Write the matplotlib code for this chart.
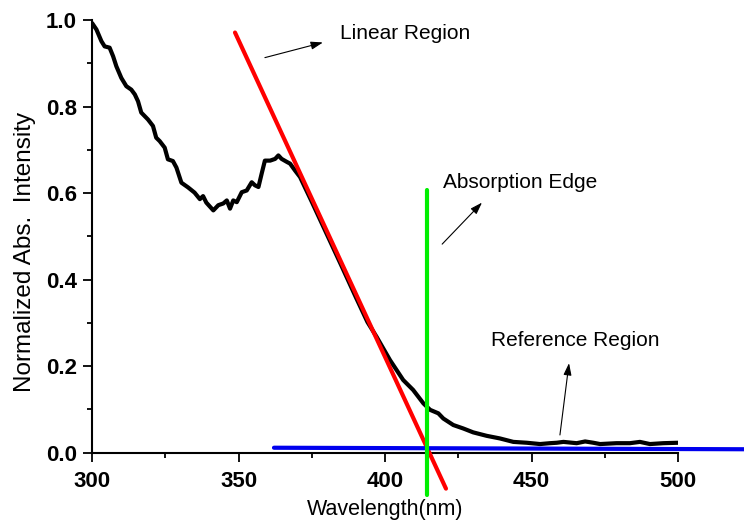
import matplotlib
matplotlib.use("Agg")
import matplotlib.pyplot as plt
from matplotlib.ticker import MultipleLocator

plt.rcParams['font.family'] = ['Liberation Sans', 'DejaVu Sans']

# Normalized absorption spectrum
wavelength = [300.3, 301.5, 303.2, 304.3, 306.0, 307.2, 308.3, 310.0, 311.7, 313.4,
              314.6, 315.7, 316.8, 319.1, 320.8, 321.9, 323.1, 324.8, 325.9, 327.6,
              328.8, 330.5, 332.8, 335.0, 336.8, 337.9, 339.0, 341.4, 343.1, 344.8,
              346.0, 347.1, 348.2, 349.4, 351.1, 352.8, 354.5, 355.6, 356.8, 357.9,
              359.0, 360.8, 362.5, 363.6, 364.7, 366.5, 367.6, 369.3, 371.0, 375.0,
              380.0, 385.0, 390.0, 394.0, 397.1, 401.7, 406.2, 409.6, 413.1, 415.4,
              418.2, 419.9, 423.3, 426.7, 430.1, 434.7, 439.2, 443.8, 448.4, 452.9,
              456.3, 458.6, 460.9, 465.4, 468.3, 471.1, 473.4, 479.0, 483.6, 487.0,
              490.4, 495.0, 500.0]
absorbance = [0.990, 0.978, 0.951, 0.939, 0.936, 0.916, 0.893, 0.866, 0.847, 0.839,
              0.828, 0.812, 0.786, 0.770, 0.755, 0.728, 0.720, 0.705, 0.678, 0.674,
              0.659, 0.624, 0.613, 0.601, 0.586, 0.593, 0.578, 0.560, 0.572, 0.576,
              0.583, 0.564, 0.583, 0.579, 0.602, 0.606, 0.625, 0.618, 0.614, 0.645,
              0.675, 0.675, 0.679, 0.687, 0.679, 0.672, 0.668, 0.652, 0.637, 0.580,
              0.507, 0.434, 0.360, 0.302, 0.268, 0.214, 0.168, 0.145, 0.114, 0.099,
              0.091, 0.079, 0.064, 0.056, 0.047, 0.039, 0.033, 0.025, 0.023, 0.020,
              0.022, 0.023, 0.025, 0.022, 0.026, 0.023, 0.020, 0.022, 0.022, 0.025,
              0.020, 0.022, 0.023]

# Tangent line fitted to the linear region
linear_x = [348.8, 420.8]
linear_y = [0.971, -0.083]
# Absorption edge marker
edge_x = [414.3, 414.3]
edge_y = [0.606, -0.098]
# Baseline of the reference region
ref_x = [362.1, 522.5]
ref_y = [0.0115, 0.008]

x_ticks = [300, 350, 400, 450, 500]
y_ticks = [0.0, 0.2, 0.4, 0.6, 0.8, 1.0]

fig = plt.figure(figsize=(7.44, 5.23), dpi=100)
ax = fig.add_axes([0.1237, 0.1344, 0.7876, 0.8274])

ax.plot(wavelength, absorbance, color='black', lw=3.0, zorder=3)
ax.plot(linear_x, linear_y, color='#ff0000', lw=3.0, clip_on=False, zorder=4,
        solid_capstyle='round')
ax.plot(edge_x, edge_y, color='#00ee00', lw=3.0, clip_on=False, zorder=5,
        solid_capstyle='round')
ax.plot(ref_x, ref_y, color='#0000ee', lw=3.0, clip_on=False, zorder=4,
        solid_capstyle='round')

ax.set_xlim(300, 500)
ax.set_ylim(0, 1.0)
ax.set_xticks(x_ticks)
ax.set_yticks(y_ticks)
ax.set_xticklabels([str(v) for v in x_ticks], fontsize=16, fontweight='bold')
ax.set_yticklabels([f"{v:.1f}" for v in y_ticks], fontsize=16, fontweight='bold')
ax.xaxis.set_minor_locator(MultipleLocator(25))
ax.yaxis.set_minor_locator(MultipleLocator(0.1))
ax.tick_params(which='major', direction='out', length=6.8, width=1.3)
ax.tick_params(which='minor', direction='out', length=3.6, width=1.3)
ax.tick_params(axis='x', which='major', pad=6.5)
ax.tick_params(axis='y', which='major', pad=4)
for side in ('top', 'right'):
    ax.spines[side].set_visible(False)
for side in ('left', 'bottom'):
    ax.spines[side].set_linewidth(1.5)

fig.text(385 / 744, 1 - 515 / 523, 'Wavelength(nm)', fontsize=15.5,
         ha='center', va='baseline')
fig.text(25 / 744, 1 - 252 / 523, 'Normalized Abs.  Intensity', fontsize=17.5,
         ha='center', va='center', rotation=90)

arrow = dict(arrowstyle='-|>,head_length=0.6,head_width=0.2', color='black',
             lw=0.8, mutation_scale=12, shrinkA=0, shrinkB=0)
ax.annotate('', xy=(378.8, 0.948), xytext=(359.0, 0.913), arrowprops=arrow,
            annotation_clip=False)
ax.annotate('', xy=(433.1, 0.578), xytext=(419.5, 0.482), arrowprops=arrow,
            annotation_clip=False)
ax.annotate('', xy=(462.8, 0.207), xytext=(459.7, 0.041), arrowprops=arrow,
            annotation_clip=False)

ax.text(384.6, 0.968, 'Linear Region', fontsize=15, ha='left', va='center')
ax.text(419.8, 0.625, 'Absorption Edge', fontsize=15, ha='left', va='center')
ax.text(436.2, 0.260, 'Reference Region', fontsize=15, ha='left', va='center')

fig.savefig('out.png', dpi=100)
